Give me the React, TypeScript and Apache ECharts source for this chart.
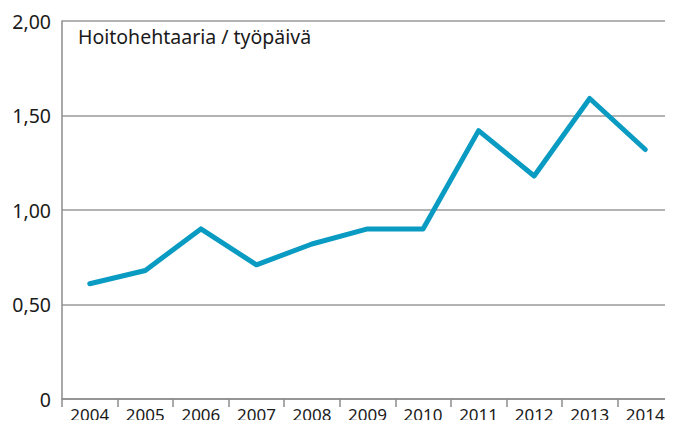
import React, { useEffect, useRef } from "react";
import * as echarts from "echarts";

const categories = ["2004", "2005", "2006", "2007", "2008", "2009", "2010", "2011", "2012", "2013", "2014"];
const values = [0.61, 0.68, 0.9, 0.71, 0.82, 0.9, 0.9, 1.42, 1.18, 1.59, 1.32];
const titleText = "Hoitohehtaaria / työpäivä";

export default function App() {
  const ref = useRef<HTMLDivElement>(null);
  useEffect(() => {
    if (!ref.current) return;
    const chart = echarts.init(ref.current, null, { renderer: "svg" });
    chart.setOption({
      animation: false,
      backgroundColor: "#ffffff",
      textStyle: { fontFamily: "Noto Sans" },
      grid: { left: 62, top: 21, right: 0, bottom: 29, containLabel: false },
      graphic: [
        {
          type: "text",
          left: 78,
          top: 26,
          style: { text: titleText, fontSize: 19.5, fontFamily: "Noto Sans", fill: "#1a1a1a" },
        },
      ],
      xAxis: {
        type: "category",
        data: categories,
        boundaryGap: true,
        axisLine: { show: true, lineStyle: { color: "#8c8c8c", width: 1.5 } },
        axisTick: { show: true, length: 8, lineStyle: { color: "#8c8c8c", width: 1.5 } },
        axisLabel: { fontSize: 17, color: "#1a1a1a", margin: 7, fontFamily: "Noto Sans" },
      },
      yAxis: {
        type: "value",
        min: 0,
        max: 2,
        interval: 0.5,
        axisLine: { show: true, lineStyle: { color: "#8c8c8c", width: 1.5 } },
        axisTick: { show: false },
        splitLine: { show: true, lineStyle: { color: "#9a9a9a", width: 1.5 } },
        axisLabel: {
          fontSize: 19.5,
          color: "#1a1a1a",
          margin: 11,
          fontFamily: "Noto Sans",
          formatter: (v: number) => (v === 0 ? "0" : v.toFixed(2).replace(".", ",")),
        },
      },
      series: [
        {
          type: "line",
          data: values,
          symbol: "none",
          lineStyle: { color: "#0a9bc2", width: 5, join: "round", cap: "round" },
        },
      ],
    });
    return () => chart.dispose();
  }, []);
  return <div ref={ref} style={{ width: 673, height: 428, margin: -8 }} />;
}
